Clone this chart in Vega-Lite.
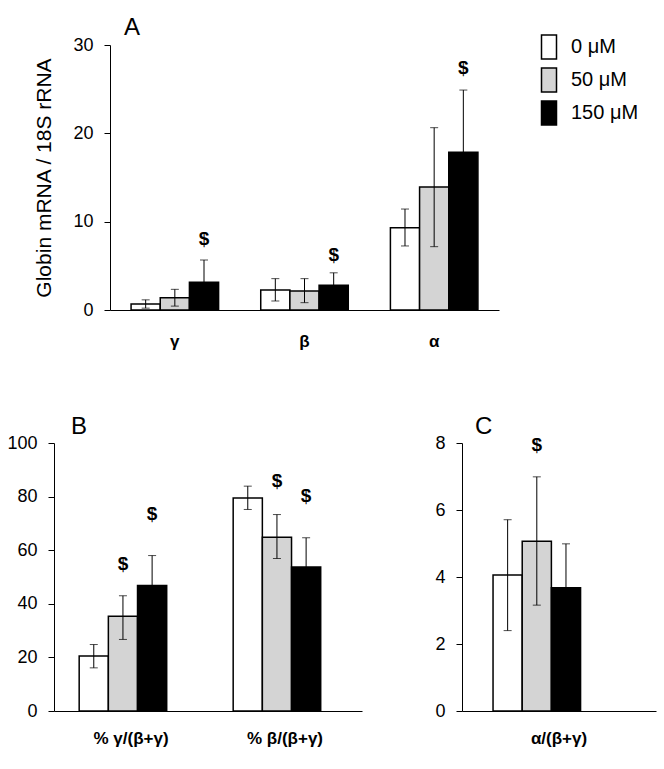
{
  "$schema": "https://vega.github.io/schema/vega-lite/v6.json",
  "background": "white",
  "padding": {"left": 6, "top": 16, "right": 2, "bottom": 2},
  "config": {
    "view": {"stroke": null},
    "font": "Liberation Sans",
    "axis": {"grid": false, "domainColor": "black", "domainWidth": 1, "tickColor": "black", "tickWidth": 1, "labelColor": "black", "titleColor": "black", "labelFont": "Liberation Sans", "titleFont": "Liberation Sans"},
    "axisY": {"tickSize": 6, "labelPadding": 11, "labelFontSize": 18, "titleFontSize": 21, "titleFontWeight": "normal", "titlePadding": 18},
    "axisX": {"ticks": false, "tickSize": 0, "labelFontSize": 17, "labelFontWeight": "bold", "labelAngle": 0, "labelPadding": 23},
    "title": {"font": "Liberation Sans", "fontSize": 24, "fontWeight": "normal", "color": "black", "anchor": "start", "frame": "group", "baseline": "alphabetic"}
  },
  "datasets": {
    "a": [
      {"gene": "γ", "dose": "0 μM", "mean": 0.68, "lo": 0.21, "hi": 1.15},
      {"gene": "γ", "dose": "50 μM", "mean": 1.39, "lo": 0.44, "hi": 2.34},
      {"gene": "γ", "dose": "150 μM", "mean": 3.13, "lo": 0.6, "hi": 5.66, "sig": 8.0},
      {"gene": "β", "dose": "0 μM", "mean": 2.26, "lo": 1.02, "hi": 3.55},
      {"gene": "β", "dose": "50 μM", "mean": 2.15, "lo": 0.83, "hi": 3.55},
      {"gene": "β", "dose": "150 μM", "mean": 2.79, "lo": 1.37, "hi": 4.21, "sig": 6.2},
      {"gene": "α", "dose": "0 μM", "mean": 9.32, "lo": 7.25, "hi": 11.43},
      {"gene": "α", "dose": "50 μM", "mean": 13.92, "lo": 7.17, "hi": 20.64},
      {"gene": "α", "dose": "150 μM", "mean": 17.85, "lo": 10.8, "hi": 24.9, "sig": 27.45}
    ],
    "b": [
      {"ratio": "% γ/(β+γ)", "dose": "0 μM", "mean": 20.5, "lo": 16.1, "hi": 24.8},
      {"ratio": "% γ/(β+γ)", "dose": "50 μM", "mean": 35.4, "lo": 26.7, "hi": 43.0, "sig": 55},
      {"ratio": "% γ/(β+γ)", "dose": "150 μM", "mean": 46.8, "lo": 35.6, "hi": 58.0, "sig": 73.5},
      {"ratio": "% β/(β+γ)", "dose": "0 μM", "mean": 79.5, "lo": 75.2, "hi": 83.9},
      {"ratio": "% β/(β+γ)", "dose": "50 μM", "mean": 64.8, "lo": 56.9, "hi": 73.3, "sig": 86},
      {"ratio": "% β/(β+γ)", "dose": "150 μM", "mean": 53.7, "lo": 42.8, "hi": 64.6, "sig": 80.4}
    ],
    "c": [
      {"ratio": "α/(β+γ)", "dose": "0 μM", "mean": 4.06, "lo": 2.40, "hi": 5.71},
      {"ratio": "α/(β+γ)", "dose": "50 μM", "mean": 5.07, "lo": 3.16, "hi": 6.99, "sig": 7.95},
      {"ratio": "α/(β+γ)", "dose": "150 μM", "mean": 3.68, "lo": 2.37, "hi": 4.99}
    ]
  },
  "resolve": {"scale": {"fill": "independent"}, "legend": {"fill": "independent"}},
  "spacing": 66,
  "vconcat": [
    {
      "bounds": "flush",
      "spacing": 0,
      "resolve": {"scale": {"fill": "independent"}, "legend": {"fill": "independent"}},
      "hconcat": [
        {"width": 56, "height": 10, "data": {"values": []}, "mark": "point"},
        {
          "width": 389,
          "height": 265,
          "data": {"name": "a"},
          "title": {"text": "A", "dx": 14, "offset": -6},
          "encoding": {
            "x": {"field": "gene", "type": "nominal", "sort": ["γ", "β", "α"], "title": null, "scale": {"paddingInner": 0.325, "paddingOuter": 0.1625}},
            "xOffset": {"field": "dose", "type": "nominal", "sort": ["0 μM", "50 μM", "150 μM"], "scale": {"paddingInner": 0, "paddingOuter": 0}}
          },
          "layer": [
            {
              "mark": {"type": "bar", "stroke": "black", "strokeWidth": 1.5},
              "encoding": {
                "y": {"field": "mean", "type": "quantitative", "title": "Globin mRNA / 18S rRNA", "scale": {"domain": [0, 30], "nice": false}, "axis": {"values": [0, 10, 20, 30]}},
                "fill": {"field": "dose", "type": "nominal", "scale": {"domain": ["0 μM", "50 μM", "150 μM"], "range": ["#ffffff", "#d4d4d4", "#000000"]},
                  "legend": {"orient": "none", "legendX": 426, "legendY": -11, "title": null, "padding": 0, "symbolType": "M-0.625,-1V1H0.625V-1Z", "symbolSize": 576, "symbolStrokeColor": "black", "symbolStrokeWidth": 1.5, "symbolOpacity": 1, "labelFontSize": 20, "labelFont": "Liberation Sans", "labelColor": "black", "labelOffset": 9, "rowPadding": 3}}
              }
            },
            {
              "mark": {"type": "rule", "color": "black", "strokeWidth": 1},
              "encoding": {"y": {"field": "lo", "type": "quantitative", "title": "Globin mRNA / 18S rRNA"}, "y2": {"field": "hi"}}
            },
            {
              "mark": {"type": "tick", "color": "black", "size": 8, "thickness": 1},
              "encoding": {"y": {"field": "hi", "type": "quantitative", "title": "Globin mRNA / 18S rRNA"}}
            },
            {
              "mark": {"type": "tick", "color": "black", "size": 8, "thickness": 1},
              "encoding": {"y": {"field": "lo", "type": "quantitative", "title": "Globin mRNA / 18S rRNA"}}
            },
            {
              "transform": [{"filter": "isValid(datum.sig)"}],
              "mark": {"type": "text", "text": "$", "fontSize": 19, "fontWeight": "bold", "baseline": "middle", "color": "black"},
              "encoding": {"y": {"field": "sig", "type": "quantitative", "title": "Globin mRNA / 18S rRNA"}}
            }
          ]
        }
      ]
    },
    {
      "spacing": 72,
      "resolve": {"scale": {"fill": "independent"}, "legend": {"fill": "independent"}},
      "hconcat": [
        {
          "width": 308,
          "height": 268,
          "data": {"name": "b"},
          "title": {"text": "B", "dx": 17, "offset": -5},
          "encoding": {
            "x": {"field": "ratio", "type": "nominal", "sort": ["% γ/(β+γ)", "% β/(β+γ)"], "title": null, "axis": {"labelPadding": 19}, "scale": {"paddingInner": 0.327, "paddingOuter": 0.1635}},
            "xOffset": {"field": "dose", "type": "nominal", "sort": ["0 μM", "50 μM", "150 μM"], "scale": {"paddingInner": 0, "paddingOuter": 0}}
          },
          "layer": [
            {
              "mark": {"type": "bar", "stroke": "black", "strokeWidth": 1.5},
              "encoding": {
                "y": {"field": "mean", "type": "quantitative", "title": null, "scale": {"domain": [0, 100], "nice": false}, "axis": {"values": [0, 20, 40, 60, 80, 100]}},
                "fill": {"field": "dose", "type": "nominal", "scale": {"domain": ["0 μM", "50 μM", "150 μM"], "range": ["#ffffff", "#d4d4d4", "#000000"]}, "legend": null}
              }
            },
            {
              "mark": {"type": "rule", "color": "black", "strokeWidth": 1},
              "encoding": {"y": {"field": "lo", "type": "quantitative", "title": null}, "y2": {"field": "hi"}}
            },
            {
              "mark": {"type": "tick", "color": "black", "size": 8, "thickness": 1},
              "encoding": {"y": {"field": "hi", "type": "quantitative", "title": null}}
            },
            {
              "mark": {"type": "tick", "color": "black", "size": 8, "thickness": 1},
              "encoding": {"y": {"field": "lo", "type": "quantitative", "title": null}}
            },
            {
              "transform": [{"filter": "isValid(datum.sig)"}],
              "mark": {"type": "text", "text": "$", "fontSize": 19, "fontWeight": "bold", "baseline": "middle", "color": "black"},
              "encoding": {"y": {"field": "sig", "type": "quantitative", "title": null}}
            }
          ]
        },
        {
          "width": 194,
          "height": 268,
          "data": {"name": "c"},
          "title": {"text": "C", "dx": 13, "offset": -5},
          "encoding": {
            "x": {"field": "ratio", "type": "nominal", "title": null, "axis": {"labelPadding": 19}, "scale": {"paddingInner": 0.32, "paddingOuter": 0.16}},
            "xOffset": {"field": "dose", "type": "nominal", "sort": ["0 μM", "50 μM", "150 μM"], "scale": {"paddingInner": 0, "paddingOuter": 0}}
          },
          "layer": [
            {
              "mark": {"type": "bar", "stroke": "black", "strokeWidth": 1.5},
              "encoding": {
                "y": {"field": "mean", "type": "quantitative", "title": null, "scale": {"domain": [0, 8], "nice": false}, "axis": {"values": [0, 2, 4, 6, 8]}},
                "fill": {"field": "dose", "type": "nominal", "scale": {"domain": ["0 μM", "50 μM", "150 μM"], "range": ["#ffffff", "#d4d4d4", "#000000"]}, "legend": null}
              }
            },
            {
              "mark": {"type": "rule", "color": "black", "strokeWidth": 1},
              "encoding": {"y": {"field": "lo", "type": "quantitative", "title": null}, "y2": {"field": "hi"}}
            },
            {
              "mark": {"type": "tick", "color": "black", "size": 8, "thickness": 1},
              "encoding": {"y": {"field": "hi", "type": "quantitative", "title": null}}
            },
            {
              "mark": {"type": "tick", "color": "black", "size": 8, "thickness": 1},
              "encoding": {"y": {"field": "lo", "type": "quantitative", "title": null}}
            },
            {
              "transform": [{"filter": "isValid(datum.sig)"}],
              "mark": {"type": "text", "text": "$", "fontSize": 19, "fontWeight": "bold", "baseline": "middle", "color": "black"},
              "encoding": {"y": {"field": "sig", "type": "quantitative", "title": null}}
            }
          ]
        }
      ]
    }
  ]
}
